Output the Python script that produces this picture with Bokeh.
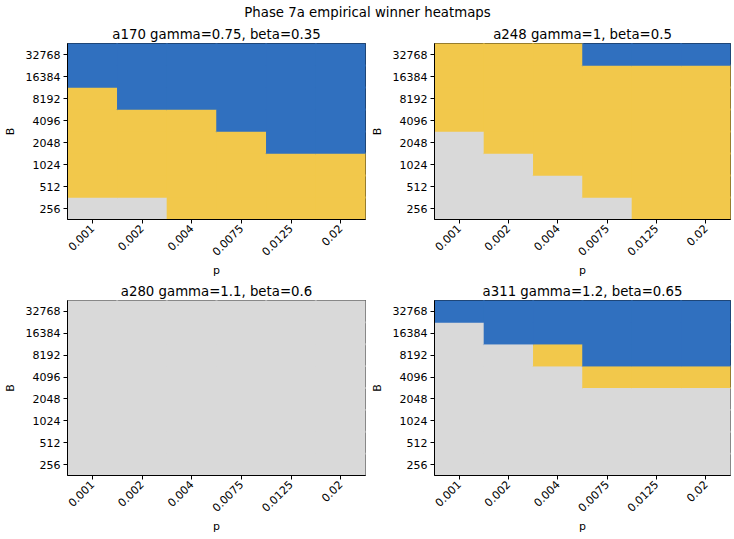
from math import pi

from bokeh.plotting import figure
from bokeh.layouts import column, row
from bokeh.models import ColumnDataSource, FactorRange, Range1d, Label
from bokeh.embed import file_html
from bokeh.resources import INLINE

# Axis categories
p_labels = ["0.001", "0.002", "0.004", "0.0075", "0.0125", "0.02"]
B_labels = ["256", "512", "1024", "2048", "4096", "8192", "16384", "32768"]

# Winner codes: 0 = none, 1 = yellow winner, 2 = blue winner
winner_colors = {0: "#d9d9d9", 1: "#f2c84b", 2: "#3070bf"}

# Rows run from B=256 (bottom) up to B=32768 (top), columns follow p_labels
a170_grid = [
    [0, 0, 1, 1, 1, 1],
    [1, 1, 1, 1, 1, 1],
    [1, 1, 1, 1, 1, 1],
    [1, 1, 1, 1, 2, 2],
    [1, 1, 1, 2, 2, 2],
    [1, 2, 2, 2, 2, 2],
    [2, 2, 2, 2, 2, 2],
    [2, 2, 2, 2, 2, 2],
]
a248_grid = [
    [0, 0, 0, 0, 1, 1],
    [0, 0, 0, 1, 1, 1],
    [0, 0, 1, 1, 1, 1],
    [0, 1, 1, 1, 1, 1],
    [1, 1, 1, 1, 1, 1],
    [1, 1, 1, 1, 1, 1],
    [1, 1, 1, 1, 1, 1],
    [1, 1, 1, 2, 2, 2],
]
a280_grid = [[0] * 6 for _ in range(8)]
a311_grid = [
    [0, 0, 0, 0, 0, 0],
    [0, 0, 0, 0, 0, 0],
    [0, 0, 0, 0, 0, 0],
    [0, 0, 0, 0, 0, 0],
    [0, 0, 0, 1, 1, 1],
    [0, 0, 1, 2, 2, 2],
    [0, 2, 2, 2, 2, 2],
    [2, 2, 2, 2, 2, 2],
]

panel_titles = [
    "a170 gamma=0.75, beta=0.35",
    "a248 gamma=1, beta=0.5",
    "a280 gamma=1.1, beta=0.6",
    "a311 gamma=1.2, beta=0.65",
]
panel_grids = [a170_grid, a248_grid, a280_grid, a311_grid]

FONT = "DejaVu Sans"

# Frame size in px; an underlay of slightly enlarged cells hides seams
FRAME_W, FRAME_H = 300, 176
PAD_W = 1 + 2 * len(p_labels) / FRAME_W
PAD_H = 1 + 2 * len(B_labels) / FRAME_H


def make_panel(title, grid, width, height, left, right, top, bottom):
    xs, ys, cs = [], [], []
    for i, b in enumerate(B_labels):
        for j, pv in enumerate(p_labels):
            xs.append(pv)
            ys.append(b)
            cs.append(winner_colors[grid[i][j]])
    src = ColumnDataSource(dict(x=xs, y=ys, c=cs))

    fig = figure(
        width=width, height=height,
        x_range=FactorRange(*p_labels), y_range=FactorRange(*B_labels),
        output_backend="svg", toolbar_location=None, title=title,
        min_border_left=left, min_border_right=right,
        min_border_top=top, min_border_bottom=bottom,
    )
    # underlay (enlarged) then exact cells on top
    fig.rect(x="x", y="y", width=PAD_W, height=PAD_H, source=src,
             fill_color="c", fill_alpha=1.0, line_color=None)
    fig.rect(x="x", y="y", width=1, height=1, source=src,
             fill_color="c", fill_alpha=1.0, line_color=None)

    fig.title.text_font = FONT
    fig.title.text_font_size = "13.3px"
    fig.title.text_font_style = "normal"
    fig.title.text_color = "black"
    fig.title.align = "center"
    fig.title.standoff = 3

    fig.xgrid.visible = False
    fig.ygrid.visible = False
    fig.outline_line_color = "black"
    fig.outline_line_width = 1
    fig.outline_line_alpha = 1.0
    fig.background_fill_color = "white"
    fig.border_fill_color = "white"

    for ax in (fig.xaxis[0], fig.yaxis[0]):
        ax.axis_line_color = "black"
        ax.major_tick_in = 0
        ax.major_tick_out = 4
        ax.major_tick_line_color = "black"
        ax.minor_tick_line_color = None
        ax.major_label_text_font = FONT
        ax.major_label_text_font_size = "11px"
        ax.major_label_text_color = "black"
        ax.axis_label_text_font = FONT
        ax.axis_label_text_font_size = "11px"
        ax.axis_label_text_font_style = "normal"
        ax.axis_label_text_color = "black"

    fig.xaxis.axis_label = "p"
    fig.yaxis.axis_label = "B"
    fig.xaxis.major_label_orientation = pi / 4
    fig.xaxis.major_label_standoff = 3
    fig.yaxis.major_label_standoff = 3
    fig.xaxis.axis_label_standoff = 2
    fig.yaxis.axis_label_standoff = 6
    return fig


# Overall heading
head = figure(width=734, height=22, x_range=Range1d(0, 1), y_range=Range1d(0, 1),
              output_backend="svg", toolbar_location=None,
              min_border=0)
head.axis.visible = False
head.grid.visible = False
head.outline_line_color = None
head.add_layout(Label(x=367, y=10, x_units="screen", y_units="screen",
                      text="Phase 7a empirical winner heatmaps",
                      text_font=FONT, text_font_size="13.3px",
                      text_color="black",
                      text_align="center", text_baseline="middle"))

p1 = make_panel(panel_titles[0], panel_grids[0], 367, 258, 65, 2, 21, 61)
p2 = make_panel(panel_titles[1], panel_grids[1], 367, 258, 63, 4, 21, 61)
p3 = make_panel(panel_titles[2], panel_grids[2], 367, 259, 65, 2, 19, 64)
p4 = make_panel(panel_titles[3], panel_grids[3], 367, 259, 63, 4, 19, 64)

layout = column(head, row(p1, p2), row(p3, p4))

open("out.html", "w").write(file_html(layout, INLINE))
